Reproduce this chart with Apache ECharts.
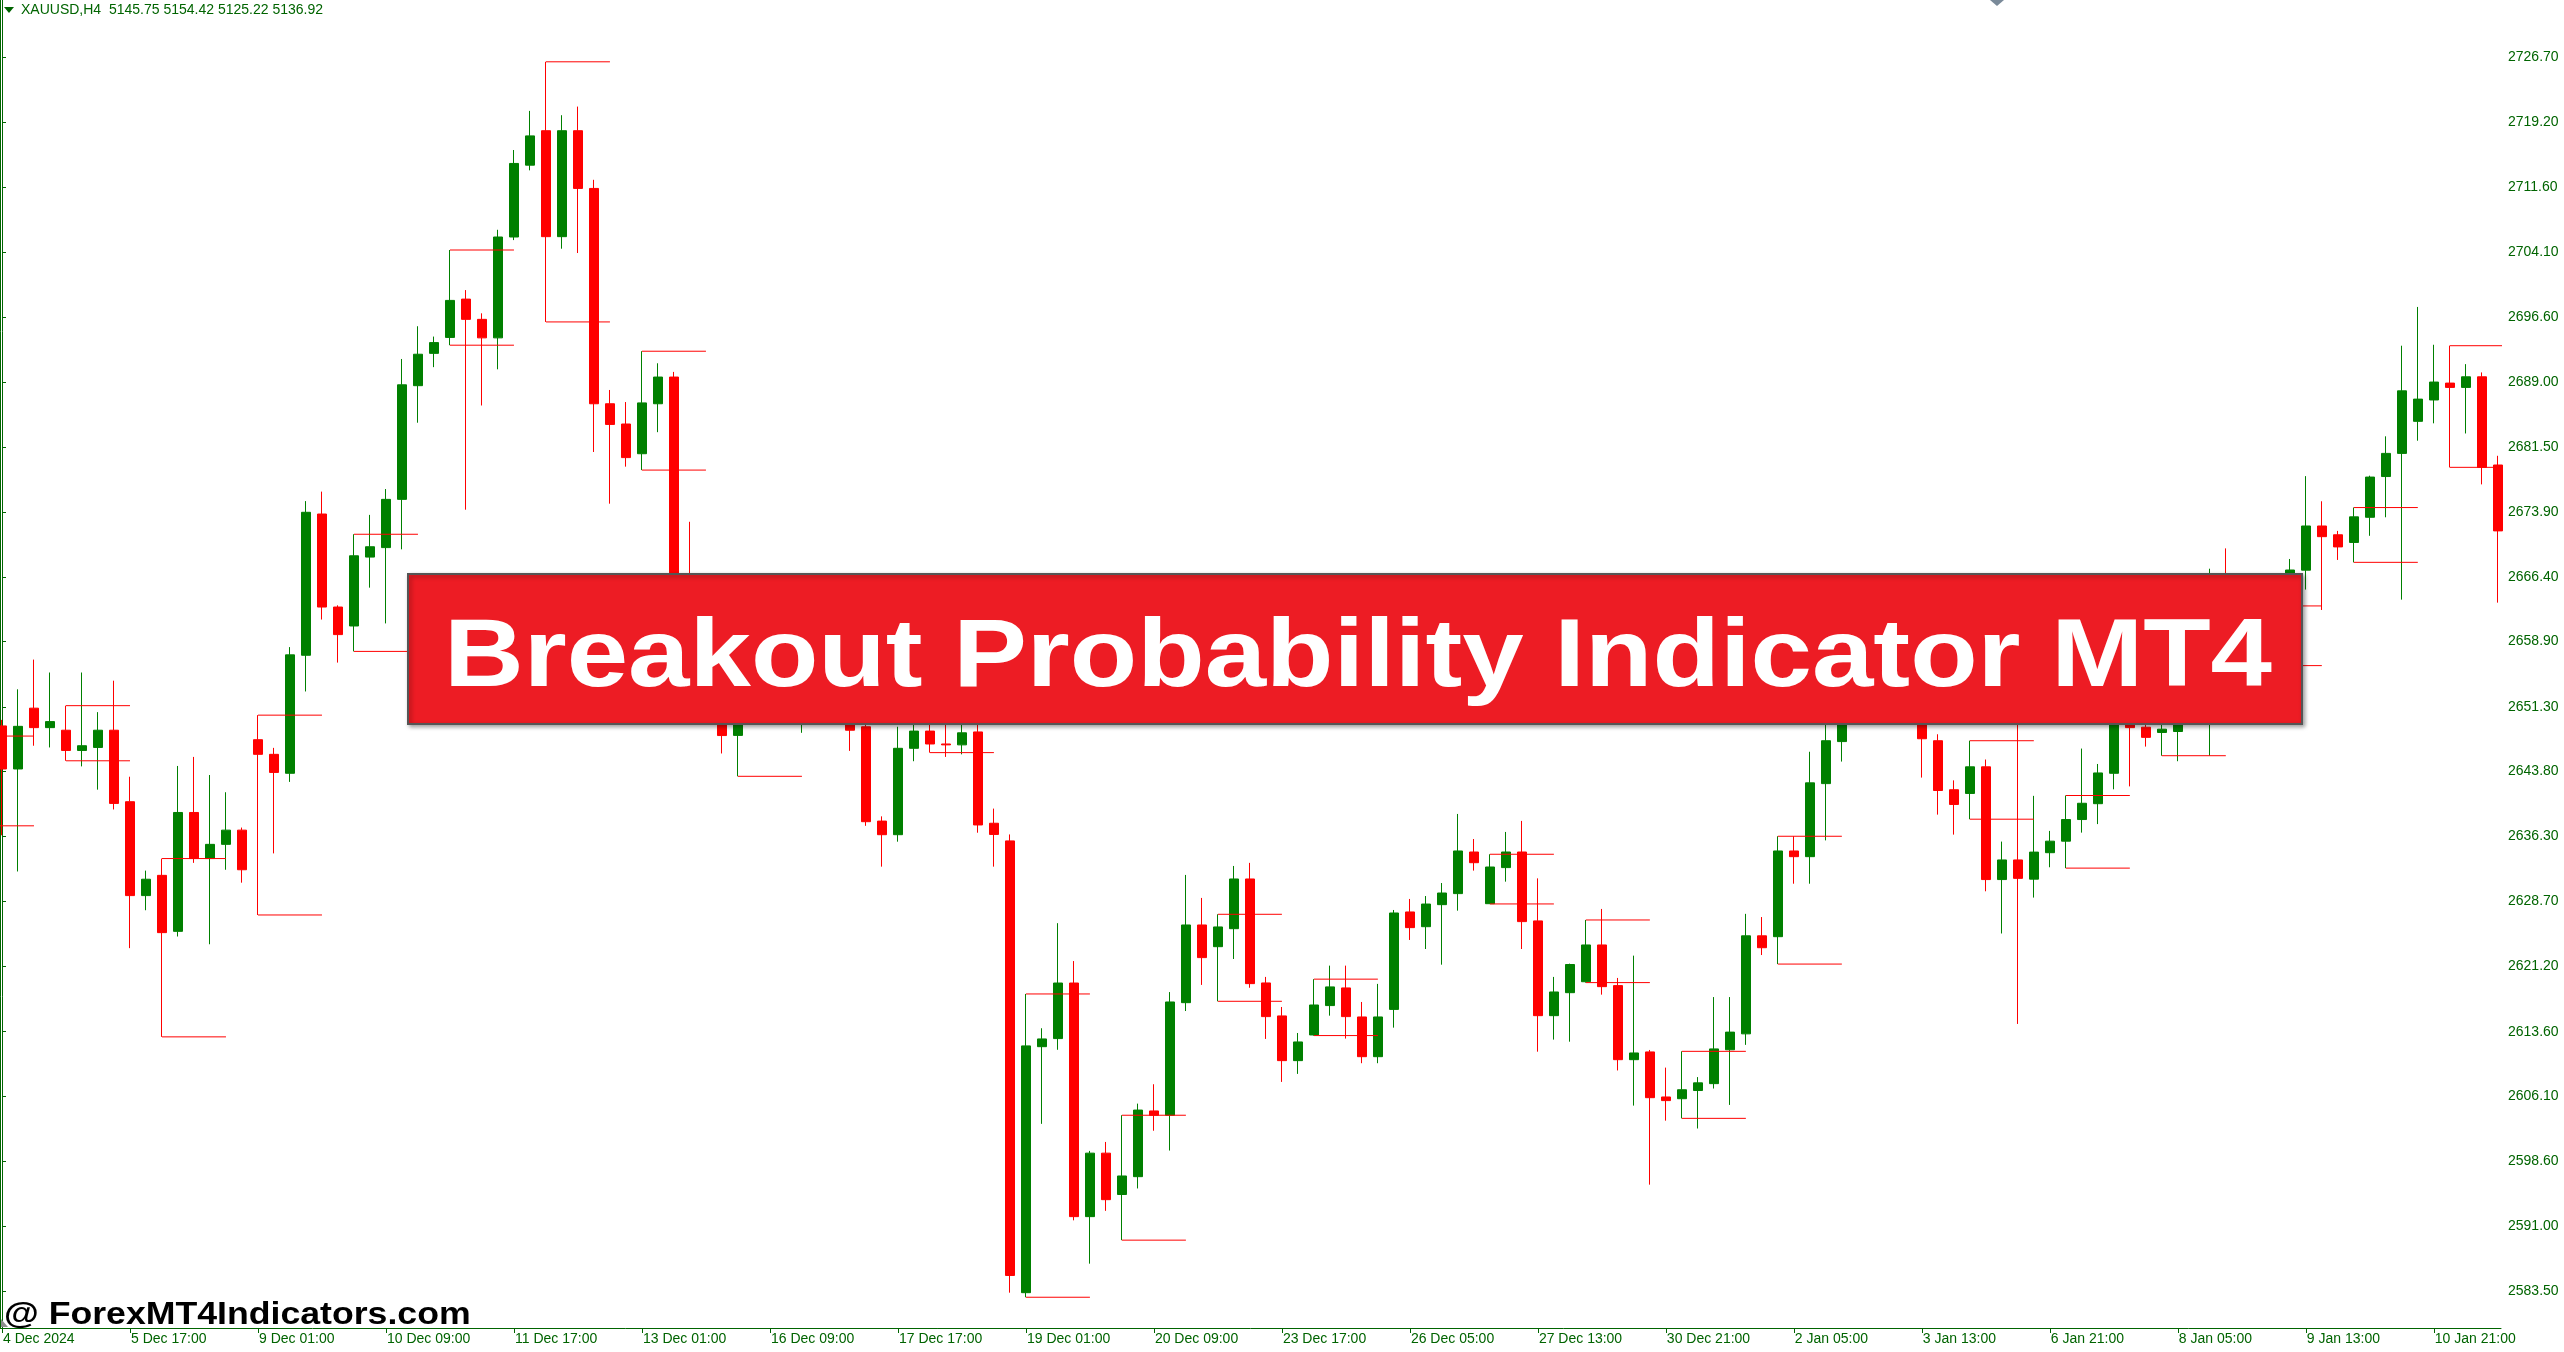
<!DOCTYPE html>
<html><head><meta charset="utf-8">
<script src="https://cdn.jsdelivr.net/npm/echarts@6/dist/echarts.min.js"></script>
<style>html,body{margin:0;padding:0;background:#fff;overflow:hidden}#c{width:2564px;height:1352px}</style>
</head><body><div id="c"></div>
<script>
// XAUUSD H4 candles, 4 Dec 2024 09:00 -> 13 Jan 2025 13:00 (one value per bar)
const opens = [
2649.1,2644.1,2651.16,2648.9,2648.6,2646.25,2646.6,2648.6,2640.3,2629.4,
2631.75,2625.25,2639.05,2633.7,2635.35,2637.0,2647.5,2645.8,2643.6,2657.3,
2673.7,2662.9,2660.7,2668.7,2669.8,2675.4,2688.6,2692.35,2694.2,2698.65,
2696.3,2694.15,2705.86,2714.2,2718.2,2705.9,2718.2,2711.5,2686.5,2684.15,
2680.7,2686.5,2689.6,2664.0,2656.0,2652.0,2648.0,2650.3,2649.8,2654.5,
2651.5,2653.5,2655.0,2652.5,2649.0,2638.05,2636.47,2646.5,2648.5,2647.0,
2646.9,2648.4,2637.8,2635.75,2583.3,2611.86,2612.8,2619.25,2592.13,2599.5,
2594.7,2596.77,2604.4,2603.9,2616.97,2625.99,2623.47,2625.56,2631.33,2619.26,
2615.43,2610.24,2613.22,2616.63,2618.68,2615.31,2610.7,2616.19,2627.5,2625.79,
2628.35,2629.63,2634.46,2628.46,2632.65,2634.46,2626.46,2615.46,2618.13,2619.4,
2623.67,2618.95,2610.35,2611.25,2606.02,2605.82,2606.77,2607.57,2611.5,2613.35,
2624.73,2624.63,2634.58,2633.92,2642.4,2647.28,2650.5,2655.0,2653.0,2656.0,
2653.5,2647.38,2641.69,2641.26,2644.35,2631.26,2633.54,2631.31,2634.38,2635.72,
2638.23,2640.07,2643.6,2650.5,2648.95,2648.34,2648.45,2650.0,2656.0,2661.0,
2657.0,2657.0,2661.0,2663.5,2667.18,2672.31,2671.29,2670.4,2673.32,2678.05,
2680.74,2684.46,2686.94,2688.9,2688.4,2689.63,2679.39];
const highs = [
2649.8,2653.35,2656.8,2655.3,2651.45,2655.3,2650.7,2654.35,2643.2,2632.3,
2633.7,2644.45,2645.5,2643.4,2641.4,2637.3,2650.35,2646.55,2658.25,2675.2,
2676.3,2663.1,2671.35,2673.6,2676.6,2691.7,2695.5,2694.3,2704.35,2699.7,
2697.0,2706.7,2715.96,2720.5,2726.2,2720.0,2721.0,2712.5,2688.1,2686.7,
2692.6,2691.2,2690.2,2672.8,2660.0,2653.5,2652.0,2652.5,2656.0,2657.5,
2655.0,2658.0,2659.0,2654.0,2651.0,2638.6,2649.0,2651.0,2652.0,2650.0,
2650.0,2649.5,2639.5,2636.5,2617.98,2614.0,2626.2,2621.8,2599.76,2600.8,
2603.9,2605.25,2607.5,2618.2,2631.8,2629.13,2627.23,2632.84,2633.2,2619.96,
2616.47,2613.45,2619.7,2621.27,2621.27,2617.05,2619.15,2627.73,2629.01,2629.35,
2630.86,2638.88,2635.97,2634.2,2636.79,2638.07,2631.4,2619.96,2621.5,2626.57,
2627.85,2619.84,2622.43,2611.48,2609.43,2611.32,2608.33,2617.62,2617.62,2627.28,
2626.91,2636.29,2636.29,2646.1,2649.4,2652.0,2657.0,2658.0,2659.0,2658.0,
2655.5,2648.13,2642.78,2647.38,2645.2,2635.67,2651.5,2640.98,2636.91,2641.02,
2646.47,2644.68,2651.5,2652.0,2649.8,2651.0,2651.5,2658.5,2667.35,2669.71,
2660.5,2663.03,2665.0,2668.48,2678.1,2675.18,2671.74,2674.45,2678.15,2682.72,
2693.24,2697.74,2693.35,2693.24,2691.1,2690.14,2680.46];
const lows = [
2636.4,2632.2,2646.8,2646.6,2645.05,2644.4,2641.7,2639.4,2623.3,2627.7,
2613.0,2624.65,2633.2,2623.75,2632.4,2630.9,2627.15,2634.3,2642.6,2653.1,
2661.45,2656.45,2657.75,2665.15,2661.0,2669.6,2684.3,2690.75,2693.3,2674.2,
2686.3,2690.5,2705.5,2713.6,2696.0,2704.5,2704.0,2680.9,2674.9,2679.2,
2678.8,2683.2,2662.5,2653.0,2650.5,2645.9,2643.25,2649.4,2649.5,2650.0,
2648.3,2651.0,2650.0,2646.2,2637.5,2632.76,2635.66,2645.0,2646.0,2645.5,
2645.8,2636.7,2632.76,2583.3,2582.77,2602.9,2611.5,2591.7,2586.67,2592.8,
2589.4,2595.4,2602.1,2599.8,2616.0,2619.03,2617.13,2622.04,2618.7,2612.76,
2607.77,2608.7,2613.15,2615.46,2612.8,2609.94,2609.94,2614.07,2624.25,2623.2,
2621.38,2627.65,2632.3,2628.43,2631.02,2623.2,2611.28,2612.68,2612.44,2619.3,
2617.9,2609.1,2605.02,2595.84,2603.27,2603.54,2602.36,2607.0,2605.1,2612.07,
2622.5,2621.45,2630.78,2630.78,2635.81,2644.96,2649.5,2650.5,2651.5,2651.0,
2643.1,2638.8,2636.48,2638.27,2629.9,2625.0,2614.5,2629.17,2632.69,2632.59,
2636.71,2637.7,2641.74,2642.08,2646.7,2645.64,2645.0,2649.6,2645.64,2649.6,
2651.5,2656.1,2659.5,2662.0,2664.93,2662.56,2668.37,2668.09,2671.17,2673.32,
2663.76,2682.21,2684.23,2679.12,2683.05,2677.14,2663.41];
const closes = [
2644.1,2649.05,2648.9,2649.6,2646.25,2646.8,2648.6,2640.1,2629.4,2631.3,
2625.1,2639.05,2633.7,2635.35,2637.0,2632.4,2645.8,2643.7,2657.35,2673.9,
2662.9,2659.7,2668.85,2669.9,2675.4,2688.7,2692.25,2693.6,2698.5,2696.3,
2694.15,2705.86,2714.4,2717.6,2705.9,2718.2,2711.5,2686.5,2684.1,2680.25,
2686.6,2689.6,2664.0,2656.0,2652.0,2647.98,2650.5,2649.8,2654.5,2651.5,
2653.5,2655.0,2652.5,2648.6,2637.98,2636.47,2646.5,2648.5,2647.0,2646.9,
2648.3,2637.6,2636.5,2585.3,2611.95,2612.76,2619.25,2592.13,2599.5,2594.1,
2596.85,2604.5,2603.9,2617.05,2625.99,2622.2,2625.76,2631.33,2619.18,2615.35,
2610.24,2612.41,2616.7,2618.8,2615.35,2610.7,2615.31,2627.38,2625.68,2628.42,
2629.7,2634.58,2633.22,2632.72,2634.46,2626.38,2615.46,2618.21,2621.4,2623.67,
2618.83,2610.35,2611.13,2605.94,2605.6,2606.86,2607.66,2611.6,2613.55,2624.73,
2623.35,2634.58,2633.92,2642.49,2647.38,2650.5,2655.0,2653.0,2656.0,2653.5,
2647.61,2641.6,2639.98,2644.35,2631.26,2633.54,2631.4,2634.45,2635.72,2638.23,
2640.12,2643.64,2649.8,2648.9,2647.77,2648.72,2649.9,2656.0,2661.0,2657.0,
2656.6,2661.0,2663.5,2667.2,2672.31,2671.07,2669.88,2673.37,2677.99,2680.74,
2688.0,2687.04,2689.02,2688.4,2689.63,2679.12,2671.74];

// Breakout levels: bar index where each level pair starts, upper and lower level
const levelStarts = [-2,4,10,16,22,28,34,40,46,52,58,64,70,76,82,93,99,105,111,117,123,129,135,141,147,153];
const levelHighs = [2647.92,2651.45,2633.7,2650.35,2671.35,2704.35,2726.2,2692.6,2652.0,2659.0,2652.0,2617.98,2603.9,2627.23,2619.7,2634.2,2626.57,2611.32,2636.29,2658.0,2647.38,2641.02,2651.0,2663.03,2674.45,2693.24];
const levelLows = [2637.5,2645.05,2613.0,2627.15,2657.75,2693.3,2696.0,2678.8,2643.25,2650.0,2646.0,2582.77,2589.4,2617.13,2613.15,2628.43,2619.3,2603.54,2621.45,2650.5,2638.27,2632.59,2645.64,2656.1,2668.09,2679.12];
const levelSpan = 4;

// Time scale labels (bar index -> label)
const xTickIndex = [0,8,16,24,32,40,48,56,64,72,80,88,96,104,112,120,128,136,144,152];
const xTickLabels = ["4 Dec 2024","5 Dec 17:00","9 Dec 01:00","10 Dec 09:00","11 Dec 17:00","13 Dec 01:00","16 Dec 09:00","17 Dec 17:00","19 Dec 01:00","20 Dec 09:00","23 Dec 17:00","26 Dec 05:00","27 Dec 13:00","30 Dec 21:00","2 Jan 05:00","3 Jan 13:00","6 Jan 21:00","8 Jan 05:00","9 Jan 13:00","10 Jan 21:00"];
// Price scale labels
const yTicks = [2583.50,2591.00,2598.60,2606.10,2613.60,2621.20,2628.70,2636.30,2643.80,2651.30,2658.90,2666.40,2673.90,2681.50,2689.00,2696.60,2704.10,2711.60,2719.20,2726.70];

const headerText = "XAUUSD,H4  5145.75 5154.42 5125.22 5136.92";
const bannerText = "Breakout Probability Indicator MT4";
const watermarkText = "@ ForexMT4Indicators.com";

const FG = '#006400';
const FONT = 'Liberation Sans';
const chart = echarts.init(document.getElementById('c'), null, {renderer: 'canvas'});

const candleRows = opens.map((o, i) => [i, o, closes[i], lows[i], highs[i]]);

const levelSeries = [];
levelStarts.forEach((s, k) => {
  [levelHighs[k], levelLows[k]].forEach(v => {
    levelSeries.push({
      type: 'line', xAxisIndex: 0, yAxisIndex: 0, z: 5,
      data: [[s, v], [s + levelSpan, v]],
      symbol: 'none', silent: true, animation: false,
      lineStyle: {color: '#ff0000', width: 1}
    });
  });
});

const xMin = -0.10625;
const xMax = 156.2;
const yMin = 2579.20;
const yMax = 2733.375;

chart.setOption({
  animation: false,
  backgroundColor: '#ffffff',
  grid: {left: 0, right: 63, top: 0, bottom: 24, containLabel: false},
  xAxis: {
    type: 'value', min: xMin, max: xMax,
    axisLine: {show: true, onZero: false, lineStyle: {color: FG, width: 1}},
    axisTick: {show: true, length: 5, customValues: xTickIndex, lineStyle: {color: FG, width: 1}},
    axisLabel: {
      show: true, customValues: xTickIndex, align: 'left', margin: 4,
      color: FG, fontFamily: FONT, fontSize: 14, padding: [0, 0, 0, 1],
      formatter: v => xTickLabels[xTickIndex.indexOf(Math.round(v))] || ''
    },
    splitLine: {show: false}
  },
  yAxis: [{
    type: 'value', position: 'right', min: yMin, max: yMax,
    axisLine: {show: true, lineStyle: {color: FG, width: 1}},
    axisTick: {show: true, length: 4, customValues: yTicks, lineStyle: {color: FG, width: 1}},
    axisLabel: {
      show: true, customValues: yTicks, margin: 7, color: FG, fontFamily: FONT, fontSize: 14,
      formatter: v => Number(v).toFixed(2)
    },
    splitLine: {show: false}
  }, {
    type: 'value', position: 'left', min: yMin, max: yMax,
    axisLine: {show: true, lineStyle: {color: FG, width: 1}},
    axisTick: {show: false}, axisLabel: {show: false}, splitLine: {show: false}
  }],
  series: [{
    type: 'candlestick', xAxisIndex: 0, yAxisIndex: 0, z: 3,
    data: candleRows, barWidth: 10, silent: true,
    itemStyle: {color: '#008000', color0: '#ff0000', borderColor: '#008000', borderColor0: '#ff0000', borderWidth: 1}
  }].concat(levelSeries),
  graphic: [
    {type: 'polygon', shape: {points: [[4, 7], [14, 7], [9, 13]]}, style: {fill: FG}, z: 50},
    {type: 'text', x: 21, y: 10.5, style: {text: headerText, fill: FG, font: '14px "' + FONT + '"', verticalAlign: 'middle'}, z: 50},
    {type: 'polygon', shape: {points: [[1990, 0], [2004, 0], [1997, 6]]}, style: {fill: '#7a8a99'}, z: 50},
    {type: 'polygon', shape: {points: [[1, 1319], [1, 1327], [8, 1327]]}, style: {fill: '#8c8c8c'}, z: 50},
    {type: 'rect', shape: {x: 408, y: 574, width: 1894, height: 150},
      style: {fill: '#ed1c24', stroke: '#555555', lineWidth: 2, shadowBlur: 4, shadowColor: 'rgba(0,0,0,0.35)', shadowOffsetX: 2, shadowOffsetY: 2}, z: 60},
    {type: 'text', x: 1358, y: 660, scaleX: 1.15, scaleY: 1,
      style: {text: bannerText, fill: '#ffffff', font: 'bold 96px "' + FONT + '"', align: 'center', verticalAlign: 'middle'}, z: 61},
    {type: 'text', x: 4, y: 1315, scaleX: 1.15, scaleY: 1,
      style: {text: watermarkText, fill: '#000000', font: 'bold 31px "' + FONT + '"', align: 'left', verticalAlign: 'middle'}, z: 62}
  ]
});
</script>
</body></html>
